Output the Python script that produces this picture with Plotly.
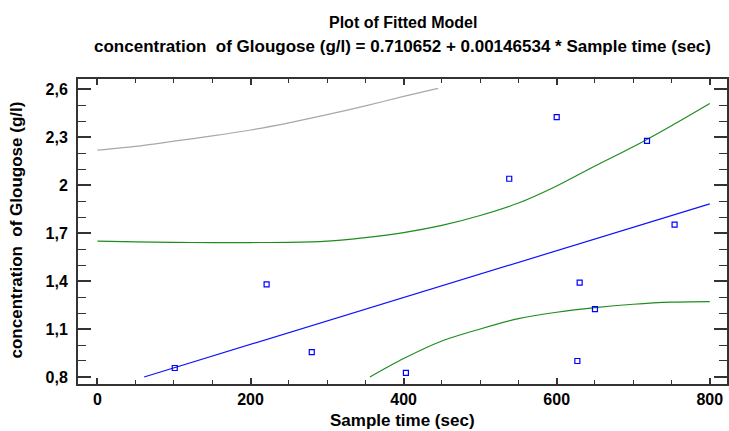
import plotly.graph_objects as go

# ---- data ----
sample_time = [101, 221, 280, 403, 538, 600, 630, 627, 650, 718, 754]
glucose = [0.856, 1.379, 0.956, 0.825, 2.04, 2.426, 1.39, 0.90, 1.224, 2.277, 1.753]

fit_x = [61, 800]
fit_y = [0.800, 1.883]

conf_upper_x = [0, 50, 100, 150, 200, 250, 300, 350, 400, 450, 500, 550, 600, 650, 700, 750, 800]
conf_upper_y = [1.650, 1.645, 1.642, 1.641, 1.641, 1.642, 1.650, 1.672, 1.703, 1.748, 1.810,
                1.888, 1.995, 2.120, 2.240, 2.372, 2.511]

conf_lower_x = [356, 400, 450, 500, 550, 600, 650, 700, 750, 800]
conf_lower_y = [0.800, 0.915, 1.025, 1.100, 1.165, 1.205, 1.234, 1.255, 1.268, 1.271]

pred_upper_x = [0, 50, 100, 150, 200, 250, 300, 350, 400, 445]
pred_upper_y = [2.219, 2.243, 2.275, 2.308, 2.345, 2.390, 2.441, 2.496, 2.555, 2.605]

x_tickvals = [0, 200, 400, 600, 800]
x_ticktext = ["0", "200", "400", "600", "800"]
y_tickvals = [0.8, 1.1, 1.4, 1.7, 2.0, 2.3, 2.6]
y_ticktext = ["0,8", "1,1", "1,4", "1,7", "2", "2,3", "2,6"]

title_line1 = "Plot of Fitted Model"
title_line2 = "concentration  of Glougose (g/l) = 0.710652 + 0.00146534 * Sample time (sec)"
x_title = "Sample time (sec)"
y_title = "concentration  of Glougose (g/l)"

FONT = "Liberation Sans, Arial, sans-serif"
AXIS_COLOR = "#333333"

fig = go.Figure()
fig.add_trace(go.Scatter(x=pred_upper_x, y=pred_upper_y, mode="lines",
                         line=dict(color="#a8a8a8", width=1.2, shape="spline", smoothing=0.8),
                         hoverinfo="skip"))
fig.add_trace(go.Scatter(x=conf_upper_x, y=conf_upper_y, mode="lines",
                         line=dict(color="#1e8c1e", width=1.2, shape="spline", smoothing=0.8),
                         hoverinfo="skip"))
fig.add_trace(go.Scatter(x=conf_lower_x, y=conf_lower_y, mode="lines",
                         line=dict(color="#1e8c1e", width=1.2, shape="spline", smoothing=0.8),
                         hoverinfo="skip"))
fig.add_trace(go.Scatter(x=fit_x, y=fit_y, mode="lines",
                         line=dict(color="#1010ff", width=1.2), hoverinfo="skip"))
fig.add_trace(go.Scatter(x=sample_time, y=glucose, mode="markers",
                         marker=dict(symbol="square-open", size=5, color="#0000ff",
                                     line=dict(width=1.2, color="#0000ff"))))

fig.update_layout(
    width=729, height=431,
    margin=dict(l=78, r=0, t=79, b=47),
    paper_bgcolor="white", plot_bgcolor="white",
    showlegend=False,
    font=dict(family=FONT, size=16, color="black", weight="bold"),
)

fig.update_xaxes(
    range=[-25.4, 822.5],
    tickvals=x_tickvals, ticktext=x_ticktext,
    ticks="inside", ticklen=6, tickwidth=1.5, tickcolor=AXIS_COLOR,
    minor=dict(ticks="inside", ticklen=4, dtick=50, tick0=0, tickwidth=1.2, tickcolor=AXIS_COLOR),
    showline=True, linecolor=AXIS_COLOR, linewidth=2, mirror="ticks",
    showgrid=False, zeroline=False,
    tickfont=dict(family=FONT, size=16, color="black", weight="bold"),
    ticklabelstandoff=0,
)
fig.update_yaxes(
    range=[0.756, 2.664],
    tickvals=y_tickvals, ticktext=y_ticktext,
    ticks="inside", ticklen=13, tickwidth=1.5, tickcolor=AXIS_COLOR,
    minor=dict(ticks="inside", ticklen=8, dtick=0.1, tick0=0.8, tickwidth=1.2, tickcolor=AXIS_COLOR),
    showline=True, linecolor=AXIS_COLOR, linewidth=2, mirror="ticks",
    showgrid=False, zeroline=False,
    tickfont=dict(family=FONT, size=16, color="black", weight="bold"),
    ticklabelstandoff=5,
)

ann16 = dict(family=FONT, size=16, color="black", weight="bold")
ann17 = dict(family=FONT, size=17, color="black", weight="bold")
fig.add_annotation(text=title_line1, xref="paper", yref="paper", x=0.5, y=1.1856,
                   xanchor="center", yanchor="middle", showarrow=False, font=ann16)
fig.add_annotation(text=title_line2, xref="paper", yref="paper", x=0.5, y=1.108,
                   xanchor="center", yanchor="middle", showarrow=False, font=ann17)
fig.add_annotation(text=x_title, xref="paper", yref="paper", x=0.5, y=-0.121,
                   xanchor="center", yanchor="middle", showarrow=False, font=ann17)
fig.add_annotation(text=y_title, xref="paper", yref="paper", x=-0.0952, y=0.504,
                   xanchor="center", yanchor="middle", showarrow=False, textangle=-90,
                   font=ann17)

fig.write_html("out.html")
